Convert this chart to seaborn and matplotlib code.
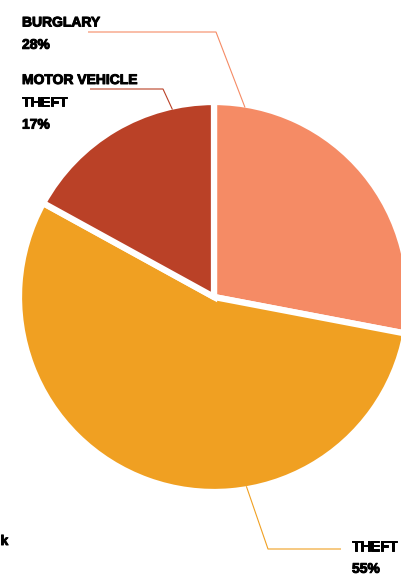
import matplotlib
matplotlib.use("Agg")
import matplotlib.pyplot as plt
import matplotlib.patheffects as pe
import seaborn as sns
import numpy as np

# Share of property crime by type (percent)
categories = ["BURGLARY", "THEFT", "MOTOR VEHICLE\nTHEFT"]
shares = [28, 55, 17]
colors = ["#F58B65", "#F0A022", "#BA4127"]

sns.set_theme(style="white")
plt.rcParams["font.family"] = ["Liberation Sans", "DejaVu Sans"]

W, H = 401, 575
fig = plt.figure(figsize=(W / 100, H / 100), dpi=100)
ax = fig.add_axes([0, 0, 1, 1])

# pie centre and radius in pixel units (y measured upward)
cx, cy, R = 214, H - 297, 195
wedges, _ = ax.pie(
    shares,
    colors=sns.color_palette(colors),
    startangle=90,
    counterclock=False,
    center=(cx, cy),
    radius=R,
    wedgeprops=dict(edgecolor="white", linewidth=4.5),
)
ax.set_xlim(0, W)
ax.set_ylim(0, H)
ax.set_aspect("equal")
ax.axis("off")

r_vis = R - 3
# leader lines: angle on the rim, elbow point, end point (image y downwards)
leaders = {
    "BURGLARY": (80.7, (216, 32), (88, 32)),
    "THEFT": (-80.3, (268, 549), (341, 549)),
    "MOTOR VEHICLE\nTHEFT": (102.5, (163, 89), (90, 89)),
}
for cat, share, col in zip(categories, shares, colors):
    ang, elbow, end = leaders[cat]
    a = np.deg2rad(ang)
    sx, sy = cx + r_vis * np.cos(a), cy + r_vis * np.sin(a)
    ax.plot([sx, elbow[0], end[0]], [sy, H - elbow[1], H - end[1]],
            color=col, lw=0.8, solid_capstyle="butt")

# heavier lettering for the labels
heavy = [pe.withStroke(linewidth=0.7, foreground="black")]

# label text blocks: x, first baseline (image y), line step
label_pos = {
    "BURGLARY": (22, 26.5),
    "THEFT": (352, 550.5),
    "MOTOR VEHICLE\nTHEFT": (22, 84),
}
step = 22.3
for cat, share in zip(categories, shares):
    x, y0 = label_pos[cat]
    lines = cat.split("\n") + [f"{share}%"]
    for i, line in enumerate(lines):
        ax.text(x, H - (y0 + i * step), line, ha="left", va="baseline",
                fontsize=10, fontweight="bold", color="black",
                path_effects=heavy)

ax.text(0.5, H - 545, "k", ha="left", va="baseline",
        fontsize=10, fontweight="bold", color="black", path_effects=heavy)

fig.savefig("out.png", dpi=100)
